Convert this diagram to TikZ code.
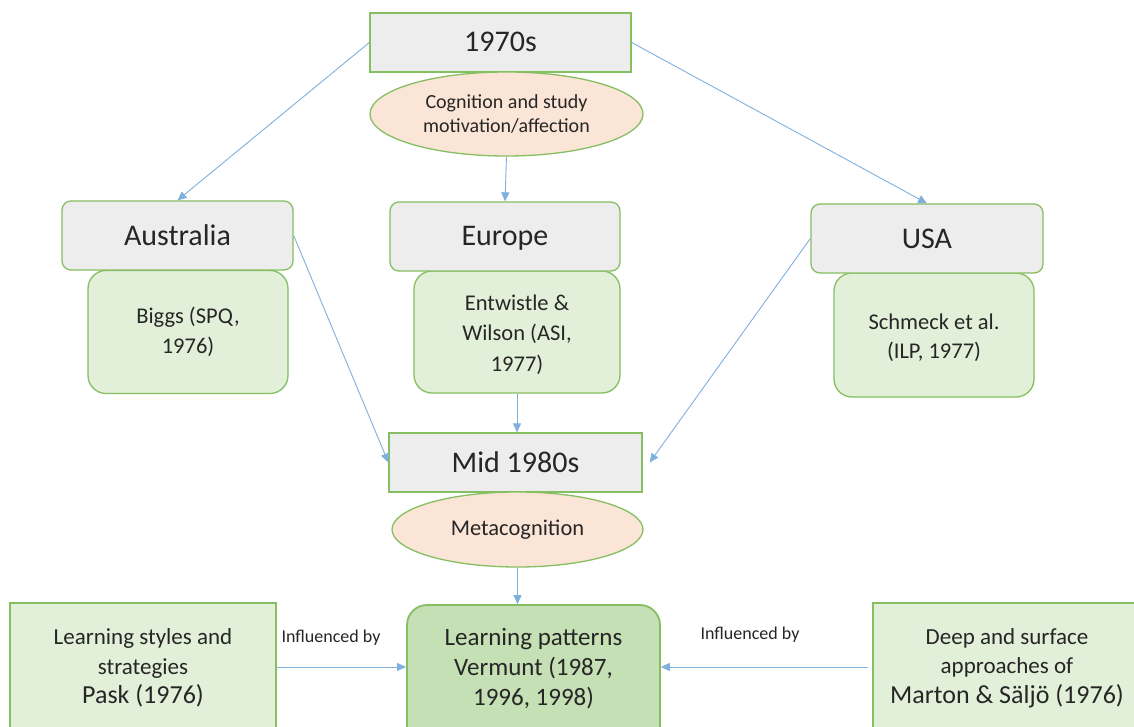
\documentclass[tikz,border=0pt]{standalone}
\usepackage{fontspec}
\setmainfont{Carlito}
\usetikzlibrary{arrows.meta,shapes.geometric}
\definecolor{edgegreen}{HTML}{86BE62}
\definecolor{greyfill}{HTML}{EDEDED}
\definecolor{greenfill}{HTML}{E2F0D9}
\definecolor{darkgreenfill}{HTML}{C5E0B4}
\definecolor{peach}{HTML}{FBE5D6}
\definecolor{arrowblue}{HTML}{7FB0DE}
\tikzset{
  base/.style={draw=edgegreen, line width=1.3pt, align=center, inner sep=0pt, text=black!85},
  era/.style={base, fill=greyfill, font=\fontsize{30}{34}\selectfont, text height=22pt, text depth=3pt},
  region/.style={era, rounded corners=9pt},
  study/.style={base, fill=greenfill, rounded corners=18pt, font=\fontsize{22.5}{30}\selectfont},
  focus/.style={base, ellipse, fill=peach},
  source/.style={base, fill=greenfill},
  centre/.style={base, fill=darkgreenfill, rounded corners=20pt, line width=1.8pt},
  boxtext/.style={text=black!85, align=center, inner sep=0pt},
  link/.style={draw=arrowblue, line width=0.9pt, -{Triangle[length=9pt,width=8pt]}},
  tag/.style={font=\fontsize{18}{22}\selectfont, text=black!85}
}
\begin{document}
\begin{tikzpicture}[x=1pt, y=-1pt]
\useasboundingbox (0,0) rectangle (1134,727);
\clip (0,0) rectangle (1134,727);
\fill[white] (0,0) rectangle (1134,727);

% top level
\node[era, minimum width=261pt, minimum height=59pt] (t70) at (500.5,42.5) {1970s};
\node[focus, minimum width=273pt, minimum height=84pt, font=\fontsize{20}{24}\selectfont] (cog) at (506.5,114) {Cognition and study\\motivation/affection};

% regions and their questionnaires
\node[study, minimum width=200pt, minimum height=123pt] (biggs) at (188,332) {Biggs (SPQ,\\1976)};
\node[region, minimum width=231pt, minimum height=69pt] (aus) at (177.5,235.5) {Australia};

\node[study, minimum width=206pt, minimum height=122pt] (ent) at (517,332) {};
\node[boxtext, font=\fontsize{22.5}{30.5}\selectfont] (enttext) at (517,334.5) {Entwistle \&\\Wilson (ASI,\\1977)};
\node[region, minimum width=230pt, minimum height=69pt] (eur) at (505,236.5) {Europe};

\node[study, minimum width=200pt, minimum height=124pt] (sch) at (934,335) {};
\node[boxtext, font=\fontsize{22.5}{29}\selectfont] (schtext) at (934,338) {Schmeck et al.\\(ILP, 1977)};
\node[region, minimum width=232pt, minimum height=69pt] (usa) at (927,238.5) {USA};

% mid 1980s
\node[era, minimum width=253pt, minimum height=59pt] (m80) at (515.5,462.5) {Mid 1980s};
\node[focus, minimum width=251pt, minimum height=75pt, font=\fontsize{22.5}{26}\selectfont] (meta) at (517.5,529.5) {Metacognition};

% bottom row
\node[centre, minimum width=253pt, minimum height=150pt] (vermunt) at (533.5,680) {};
\node[boxtext, font=\fontsize{25}{30}\selectfont] (vtext) at (533.5,669) {Learning patterns\\Vermunt (1987,\\1996, 1998)};

\node[source, minimum width=266pt, minimum height=150pt] (pask) at (143,678) {};
\node[boxtext, font=\fontsize{23}{29.5}\selectfont] (pasktext) at (143,668)
  {Learning styles and\\strategies\\\fontsize{26}{29.5}\selectfont Pask (1976)};

\node[source, minimum width=268pt, minimum height=150pt] (marton) at (1007,678) {};
\node[boxtext, font=\fontsize{23}{29.5}\selectfont] (martontext) at (1007,668)
  {Deep and surface\\approaches of\\\fontsize{26}{29.5}\selectfont Marton \& Säljö (1976)};

% connectors
\draw[link] (t70.west) -- (aus.north);
\draw[link] (t70.east) -- (usa.north);
\draw[link] (cog.south) -- (eur.north);
\draw[link] (aus.east) -- (m80.west);
\draw[link] (ent.south) -- (ent.south |- m80.north);
\draw[link] (usa.west) -- ([xshift=7pt]m80.east);
\draw[link] (meta.south) -- (meta.south |- vermunt.north);
\draw[link] (pask.east |- 0,667) coordinate (pe) -- (vermunt.west |- pe);
\draw[link] ([xshift=-4pt]marton.west |- 0,667) coordinate (me) -- (vermunt.east |- me);

% link labels
\node[tag] (lab1) at (331,638) {Influenced by};
\node[tag] (lab2) at (750,635) {Influenced by};
\end{tikzpicture}
\end{document}
